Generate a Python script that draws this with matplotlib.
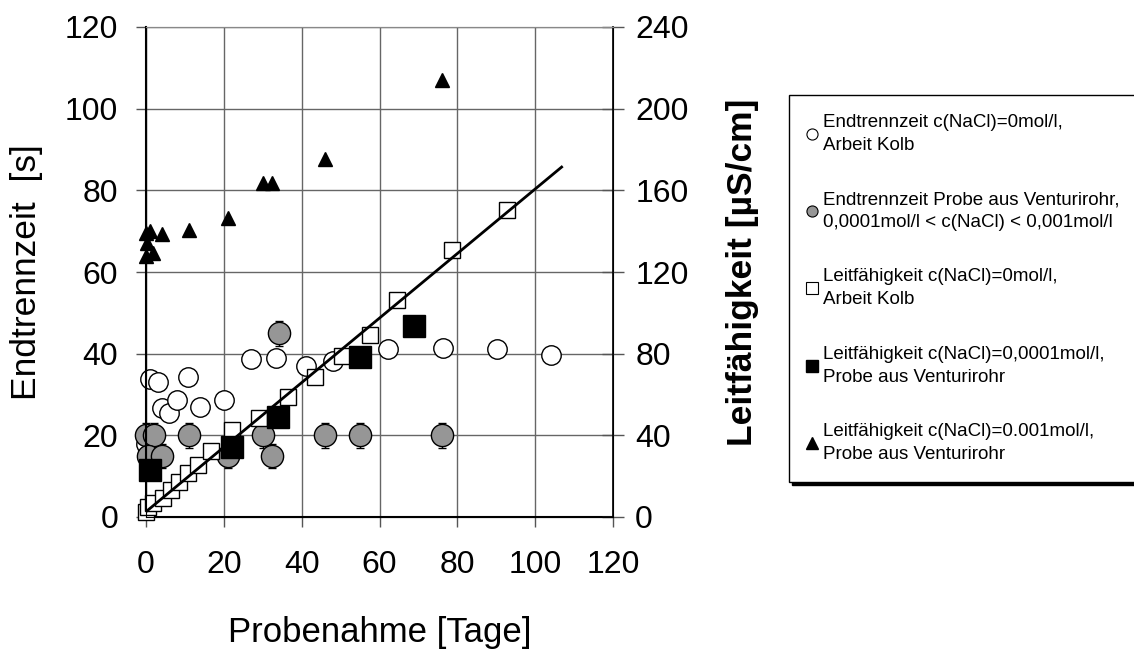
import matplotlib.pyplot as plt
from matplotlib.lines import Line2D

plt.rcParams['font.family'] = ['Liberation Sans', 'DejaVu Sans']

# Endtrennzeit c(NaCl)=0, Arbeit Kolb  (left axis, s)
kolb_t_x = [0, 1, 3.2, 4, 6, 7.9, 10.9, 13.9, 20, 26.9, 33.3, 41, 48, 62.1, 76.2, 90.1, 104.1]
kolb_t_y = [18, 33.8, 33, 26.7, 25.4, 28.7, 34.4, 26.9, 28.7, 38.7, 38.9, 37.1, 38.3, 41.2, 41.5, 41.1, 39.6]

# Endtrennzeit Probe aus Venturirohr (left axis, s) with error
vent_t_x = [0, 2, 11, 30, 46, 55, 76, 0.5, 4, 21, 32.3, 34.2]
vent_t_y = [20, 20, 20, 20, 20, 20, 20, 15, 15, 15, 15, 45]
vent_t_err = [3, 3, 3, 3, 3, 3, 3, 3, 3, 3, 3, 3]

# Leitfaehigkeit c(NaCl)=0, Arbeit Kolb (right axis, uS/cm)
kolb_l_x = [0, 0.4, 1.7, 4.3, 6.4, 8.6, 10.7, 13.3, 16.7, 22, 29, 36.6, 43.4, 50.3, 57.6, 64.4, 78.7, 92.7]
kolb_l_y = [2.6, 5, 6.7, 9.2, 13.3, 17.3, 21.4, 25.5, 32.1, 42.7, 48.6, 58.7, 68.6, 78.7, 89, 106.5, 130.9, 150.2]

# Leitfaehigkeit c(NaCl)=0,0001 mol/l
l1_x = [0.9, 22, 34, 55, 68.9]
l1_y = [23, 34.2, 49.2, 78.4, 93.4]

# Leitfaehigkeit c(NaCl)=0.001 mol/l
l2_x = [0, 1, 0.2, 1.7, 0, 4, 11, 21, 30, 32.3, 46, 76.1]
l2_y = [139.2, 140, 134.3, 129.4, 127.8, 138.4, 140.4, 146.6, 163.8, 163.8, 175.2, 214]

# trend line for Kolb conductivity
fit_x = [0, 106.8]
fit_y = [2.6, 171.4]

fig = plt.figure(figsize=(11.34, 6.5), dpi=100)
ax = fig.add_axes([146/1134, 1-517/650, (613-146)/1134, (517-27)/650])
ax2 = ax.twinx()

ax.set_xlim(0, 120)
ax.set_ylim(0, 120)
ax2.set_ylim(0, 240)
ax.set_xticks(range(0, 121, 20))
ax.set_yticks(range(0, 121, 20))
ax2.set_yticks(range(0, 241, 40))

ax.grid(True, color='#666666', linewidth=1.0)
ax.set_axisbelow(True)

ax.plot(kolb_t_x, kolb_t_y, 'o', ms=14, mfc='white', mec='black', mew=1.0, clip_on=False)
ax.errorbar(vent_t_x, vent_t_y, yerr=vent_t_err, fmt='o', ms=16, mfc='#969696', mec='black',
            mew=1.0, ecolor='black', elinewidth=1.0, capsize=3, clip_on=False)

ax2.plot(kolb_l_x, kolb_l_y, 's', ms=11.5, mfc='white', mec='black', mew=1.0, clip_on=False)
ax2.plot(l1_x, l1_y, 's', ms=16, mfc='black', mec='black', clip_on=False)
ax2.plot(l2_x, l2_y, '^', ms=10, mfc='black', mec='black', clip_on=False)
ax2.plot(fit_x, fit_y, '-', color='black', lw=2)

for a in (ax, ax2):
    a.spines['top'].set_color('#888888')
ax.spines['left'].set_linewidth(1.5)
ax.spines['bottom'].set_linewidth(1.5)
ax2.spines['right'].set_linewidth(1.2)

ax.tick_params(axis='both', direction='out', length=7, width=1, labelsize=23, color='#555555')
ax.tick_params(axis='y', pad=13)
ax.tick_params(axis='x', pad=17)
ax2.tick_params(axis='y', direction='inout', length=16, width=1, labelsize=23, pad=8, color='#555555')

ax.set_xlabel('Probenahme [Tage]', fontsize=25, labelpad=26)
ax.set_ylabel('Endtrennzeit  [s]', fontsize=25.5, labelpad=16)
ax2.set_ylabel('Leitfähigkeit [µS/cm]', fontsize=25.5, fontweight='bold', labelpad=27)

handles = [
    Line2D([], [], ls='', marker='o', ms=8, mfc='white', mec='black', mew=0.8),
    Line2D([], [], ls='', marker='o', ms=8, mfc='#969696', mec='black', mew=0.8),
    Line2D([], [], ls='', marker='s', ms=8, mfc='white', mec='black', mew=0.8),
    Line2D([], [], ls='', marker='s', ms=8, mfc='black', mec='black'),
    Line2D([], [], ls='', marker='^', ms=8, mfc='black', mec='black'),
]
labels = [
    'Endtrennzeit c(NaCl)=0mol/l,\nArbeit Kolb',
    'Endtrennzeit Probe aus Venturirohr,\n0,0001mol/l < c(NaCl) < 0,001mol/l',
    'Leitfähigkeit c(NaCl)=0mol/l,\nArbeit Kolb',
    'Leitfähigkeit c(NaCl)=0,0001mol/l,\nProbe aus Venturirohr',
    'Leitfähigkeit c(NaCl)=0.001mol/l,\nProbe aus Venturirohr',
]
leg = fig.legend(handles, labels, loc='upper left', bbox_to_anchor=(789/1134, 1-95/650),
                 fontsize=13.5, frameon=True, fancybox=False, edgecolor='black',
                 shadow={'color': 'black', 'alpha': 1}, borderpad=1.0, labelspacing=2.0,
                 handlelength=0.5, handletextpad=0.3, borderaxespad=0)
leg.get_frame().set_linewidth(1.0)
for t in leg.get_texts():
    t.set_linespacing(1.45)

fig.savefig('out.png', dpi=100)
